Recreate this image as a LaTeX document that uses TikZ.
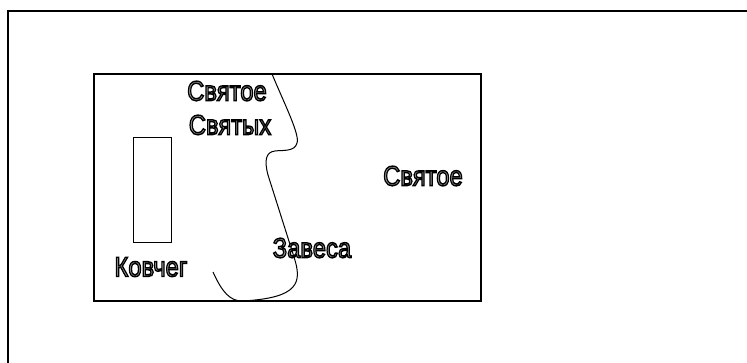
\documentclass[tikz,border=0pt]{standalone}
\usepackage{fontspec}
\setmainfont{Liberation Sans}
\tikzset{
  lbl/.style={inner sep=0pt, font=\fontsize{28}{32}\selectfont, xscale=0.85, text=black!40},
  frame/.style={line width=2pt},
  room/.style={line width=1.3pt},
  ark/.style={line width=1pt},
  veil/.style={line width=1pt}
}
\newcommand{\outl}[1]{\special{pdf:code 2 Tr 1.4 w 0 G}#1\special{pdf:code 0 Tr}}
\begin{document}
\begin{tikzpicture}[x=1pt,y=-1pt]
\useasboundingbox (0,0) rectangle (747,363);
\path[fill=white] (0,0) rectangle (747,363);
% outer frame (extends beyond right and bottom)
\draw[frame] (7.5,370) -- (7.5,11) -- (760,11);
% sanctuary
\draw[room] (94,74) rectangle (481,301);
% ark
\draw[ark] (133,138) rectangle (171,243);
% veil
\coordinate (v0) at (272,74);
\coordinate (v1) at (213,272);
\draw[veil] (v0) .. controls (285,105) and (300,135) .. (297,143)
  .. controls (295,152) and (282,150) .. (275,151)
  .. controls (266,152) and (264,160) .. (268,175)
  -- (294,257)
  .. controls (302,282) and (300,298) .. (242,301)
  .. controls (230,301) and (222,292) .. (v1);
% labels
\node[lbl] (ss1) at (227,91) {\outl{Святое}};
\node[lbl] (ss2) at (230,125) {\outl{Святых}};
\node[lbl] (s) at (423,176) {\outl{Святое}};
\node[lbl] (kov) at (151,267) {\outl{Ковчег}};
\node[lbl] (zav) at (312,248) {\outl{Завеса}};
\end{tikzpicture}
\end{document}
